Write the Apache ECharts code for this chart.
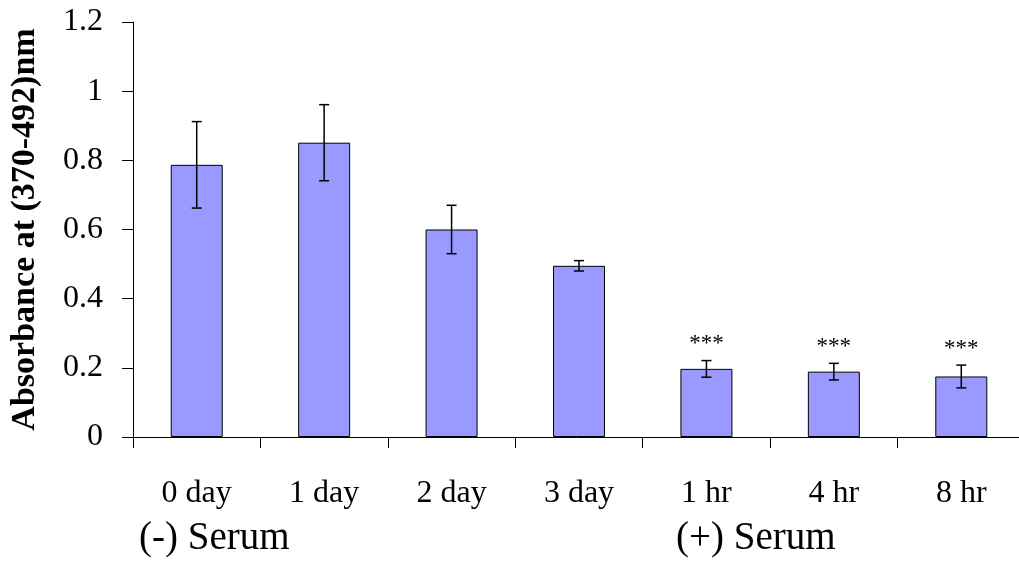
<!DOCTYPE html>
<html>
<head>
<meta charset="utf-8">
<style>
  html, body { margin: 0; padding: 0; background: #ffffff; }
  #chart { width: 1019px; height: 564px; }
</style>
<script src="https://cdn.jsdelivr.net/npm/echarts@6/dist/echarts.min.js"></script>
</head>
<body>
<div id="chart"></div>
<script>
// Absorbance readings per condition, with error half-widths
const categories = ['0 day', '1 day', '2 day', '3 day', '1 hr', '4 hr', '8 hr'];
const absorbance = [0.787, 0.851, 0.600, 0.495, 0.197, 0.189, 0.175];
const errors = [0.125, 0.110, 0.070, 0.015, 0.024, 0.024, 0.033];
const significance = ['', '', '', '', '***', '***', '***'];
const yTicks = [0, 0.2, 0.4, 0.6, 0.8, 1, 1.2];
const groupLabels = ['(-) Serum', '(+) Serum'];

const serif = '"Liberation Serif", "DejaVu Serif", serif';

const chart = echarts.init(document.getElementById('chart'), null, { renderer: 'canvas' });

const errorData = absorbance.map((v, i) => [i, v - errors[i], v + errors[i], significance[i]]);

chart.setOption({
  backgroundColor: '#ffffff',
  animation: false,
  grid: { left: 133, top: 22, width: 892, height: 415, containLabel: false, outerBoundsMode: 'none' },
  xAxis: {
    type: 'category',
    data: categories,
    boundaryGap: true,
    axisLine: { lineStyle: { color: '#000', width: 1 } },
    axisTick: { show: true, length: 11, inside: false, alignWithLabel: false, lineStyle: { color: '#000', width: 1 } },
    axisLabel: { color: '#000', fontFamily: serif, fontSize: 32, margin: 41, interval: 0 },
    splitLine: { show: false }
  },
  yAxis: {
    type: 'value',
    min: 0,
    max: 1.2,
    interval: 0.2,
    name: 'Absorbance at (370-492)nm',
    nameLocation: 'middle',
    nameGap: 91,
    nameRotate: 90,
    nameTextStyle: { color: '#000', fontFamily: serif, fontSize: 34, fontWeight: 'bold' },
    axisLine: { show: true, lineStyle: { color: '#000', width: 1 } },
    axisTick: { show: true, length: 11, lineStyle: { color: '#000', width: 1 } },
    axisLabel: {
      color: '#000', fontFamily: serif, fontSize: 32, margin: 30,
      formatter: v => {
        const t = yTicks.find(x => Math.abs(x - v) < 1e-9);
        return t === undefined ? '' : String(t);
      }
    },
    splitLine: { show: false }
  },
  series: [
    {
      type: 'bar',
      data: absorbance,
      barWidth: 52,
      itemStyle: { color: '#9999ff', borderColor: '#000', borderWidth: 1 }
    },
    {
      type: 'custom',
      data: errorData,
      z: 10,
      renderItem: (params, api) => {
        const x = api.value(0);
        const lo = api.coord([x, api.value(1)]);
        const hi = api.coord([x, api.value(2)]);
        const cap = 5;
        const style = { stroke: '#000', lineWidth: 1.5 };
        const children = [
          { type: 'line', shape: { x1: hi[0], y1: hi[1], x2: lo[0], y2: lo[1] }, style },
          { type: 'line', shape: { x1: hi[0] - cap, y1: hi[1], x2: hi[0] + cap, y2: hi[1] }, style },
          { type: 'line', shape: { x1: lo[0] - cap, y1: lo[1], x2: lo[0] + cap, y2: lo[1] }, style }
        ];
        const mark = api.value(3);
        if (mark) {
          children.push({
            type: 'text',
            style: {
              text: mark, x: hi[0], y: hi[1] - 5,
              align: 'center', verticalAlign: 'bottom',
              fill: '#000', font: '23px ' + serif
            }
          });
        }
        return { type: 'group', children };
      }
    }
  ],
  graphic: [
    { type: 'text', left: 139, top: 519, style: { text: groupLabels[0], fill: '#000', font: '39px ' + serif } },
    { type: 'text', left: 676, top: 519, style: { text: groupLabels[1], fill: '#000', font: '39px ' + serif } }
  ]
});
</script>
</body>
</html>
